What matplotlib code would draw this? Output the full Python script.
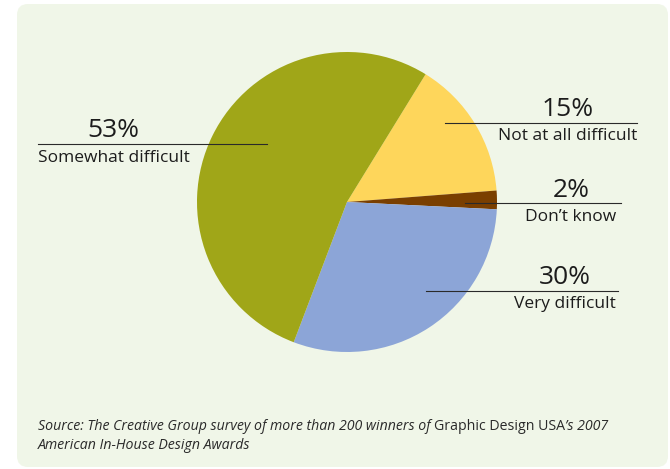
import matplotlib
matplotlib.use("Agg")
import matplotlib.pyplot as plt
from matplotlib.patches import FancyBboxPatch

# survey answers, in the clockwise order they sit on the pie
labels = ["Not at all difficult", "Don\u2019t know", "Very difficult", "Somewhat difficult"]
shares = [15, 2, 30, 53]
colors = ["#FED65B", "#7A3F00", "#8CA5D7", "#A0A618"]

# leader layout in pie units (radius = 1)
line_y = [0.529, -0.009, -0.591, 0.387]
line_x = [(0.653, 1.933), (0.787, 1.827), (0.527, 1.807), (-2.06, -0.533)]
text_x = [1.473, 1.493, 1.453, -1.557]

source = [
    ("Source: The Creative Group survey of more than 200 winners of ", "italic"),
    ("Graphic Design USA", "normal"),
    ("\u2019s 2007", "italic"),
]
source_2 = "American In-House Design Awards"

W, H = 670, 469
fig = plt.figure(figsize=(W / 100, H / 100), dpi=100, facecolor="white")

# background panel, in pixel coordinates
bg = fig.add_axes([0, 0, 1, 1])
bg.set_xlim(0, W)
bg.set_ylim(H, 0)
bg.axis("off")
bg.add_patch(FancyBboxPatch((17, 4), 651, 463, boxstyle="round,pad=0,rounding_size=11",
                            facecolor="#F0F6E8", edgecolor="none"))

# pie axes: centre (347, 202), radius 150 px
cx, cy, r = 347, 202, 150
ax = fig.add_axes([(cx - r) / W, (H - cy - r) / H, 2 * r / W, 2 * r / H])
ax.pie(shares, colors=colors, startangle=58.4, counterclock=False,
       wedgeprops=dict(linewidth=0))
ax.set_xlim(-1, 1)
ax.set_ylim(-1, 1)
ax.set_aspect("equal")
ax.axis("off")

txt_col = "#1c1c1c"
for lab, v, y, (x0, x1), tx in zip(labels, shares, line_y, line_x, text_x):
    ax.plot([x0, x1], [y, y], color="#2a2a2a", lw=0.8, clip_on=False, zorder=5)
    ax.annotate(f"{v}%", (tx, y), xytext=(0, 0.5), textcoords="offset points",
                ha="center", va="bottom", fontsize=19, family="Open Sans",
                color=txt_col, annotation_clip=False)
    ax.annotate(lab, (tx, y), xytext=(0, -4), textcoords="offset points",
                ha="center", va="top", fontsize=12.5, family="Open Sans",
                color=txt_col, annotation_clip=False)

# source note, mixed italic / upright
prev = None
for s, style in source:
    if prev is None:
        prev = bg.text(38, 430, s, fontsize=10.2, style=style, family="Open Sans",
                       color="#2a2a2a", va="baseline", ha="left")
    else:
        prev = bg.annotate(s, xy=(1, 0), xycoords=prev, va="bottom", ha="left",
                           fontsize=10.2, style=style, family="Open Sans", color="#2a2a2a")
bg.text(38, 449, source_2, fontsize=10.2, style="italic", family="Open Sans",
        color="#2a2a2a", va="baseline", ha="left")

fig.savefig("out.png", dpi=100, facecolor="white")
